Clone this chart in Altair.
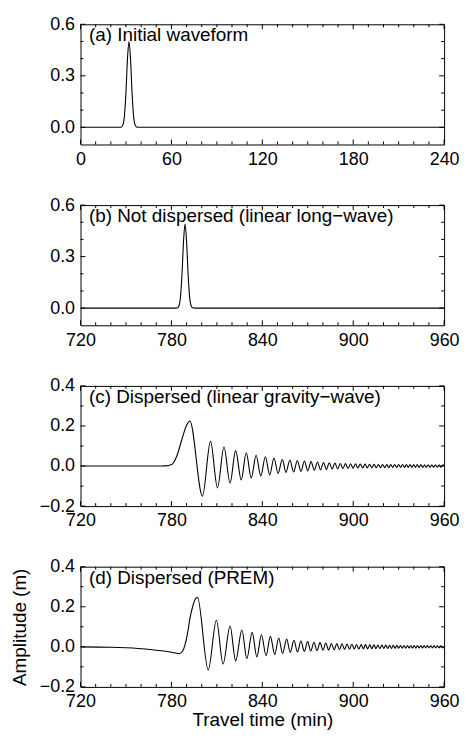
import altair as alt
import pandas as pd

FONT = "Liberation Sans"
W, H = 366, 121

panel_labels = [
    "(a) Initial waveform",
    "(b) Not dispersed (linear long\u2212wave)",
    "(c) Dispersed (linear gravity\u2212wave)",
    "(d) Dispersed (PREM)",
]
x_title = "Travel time (min)"
y_title = "Amplitude (m)"

# ---- tick values ----
xa_major = [0, 60, 120, 180, 240]
xa_minor = [10, 20, 30, 40, 50, 70, 80, 90, 100, 110, 130, 140, 150, 160, 170,
            190, 200, 210, 220, 230]
xb_major = [720, 780, 840, 900, 960]
xb_minor = [730, 740, 750, 760, 770, 790, 800, 810, 820, 830, 850, 860, 870, 880,
            890, 910, 920, 930, 940, 950]
ya_major = [0.0, 0.3, 0.6]
ya_minor = [0.1, 0.2, 0.4, 0.5]
yc_major = [-0.2, 0.0, 0.2, 0.4]
yc_minor = [-0.1, 0.1, 0.3]

# ---- (a) initial waveform ----
a_time = [0, 26, 27, 28, 29, 30, 31, 32, 33, 34, 35, 36, 37, 38, 240]
a_amp = [0, 0.0, 0.002, 0.014, 0.068, 0.205, 0.40, 0.50, 0.40, 0.205, 0.068,
         0.014, 0.002, 0.0, 0]

# ---- (b) not dispersed ----
b_time = [720, 783, 784, 785, 786, 787, 788, 789, 790, 791, 792, 793, 794, 795, 960]
b_amp = [0, 0.0, 0.002, 0.014, 0.067, 0.20, 0.39, 0.49, 0.39, 0.20, 0.067,
         0.014, 0.002, 0.0, 0]

# ---- (c) dispersed, linear gravity wave ----
c_time = [720, 770, 776, 780.2, 783.5, 786.8, 790, 792.2, 800.5, 805.8, 810.4,
          814.7, 818.7, 822.4, 826.1, 829.4, 832.7, 835.9, 839.0, 842.0, 844.9,
          847.7, 850.4, 853.2, 855.6, 858.2, 860.7, 863.1, 865.5, 867.8, 870.0,
          872.2, 874.3, 876.4, 878.4, 880.4, 882.3, 884.2, 886.1, 887.9, 889.7,
          891.5, 893.2, 894.9, 896.6, 898.3, 899.9, 901.5, 903.1, 904.7, 906.3,
          907.8, 909.3, 910.8, 912.3, 913.8, 915.2, 916.6, 918.0, 919.4, 920.8,
          922.2, 923.5, 924.8, 926.1, 927.4, 928.7, 930.0, 931.3, 932.6, 933.9,
          935.1, 936.3, 937.5, 938.7, 939.9, 941.1, 942.3, 943.5, 944.7, 945.9,
          947.1, 948.3, 949.5, 950.7, 951.9, 953.1, 954.3, 955.5, 956.7, 957.9,
          959.1, 960]
c_amp = [0, 0, 0.001, 0.008, 0.049, 0.13, 0.204, 0.225, -0.15, 0.123, -0.109,
         0.095, -0.085, 0.077, -0.07, 0.066, -0.06, 0.054, -0.05, 0.046, -0.044,
         0.04, -0.037, 0.033, -0.032, 0.03, -0.03, 0.028, -0.027, 0.025, -0.024,
         0.022, -0.021, 0.02, -0.019, 0.018, -0.017, 0.016, -0.015, 0.015, -0.014,
         0.013, -0.013, 0.012, -0.012, 0.011, -0.011, 0.011, -0.010, 0.010, -0.010,
         0.010, -0.009, 0.009, -0.009, 0.009, -0.009, 0.008, -0.008, 0.008, -0.008,
         0.008, -0.008, 0.008, -0.007, 0.007, -0.007, 0.007, -0.007, 0.007, -0.007,
         0.007, -0.007, 0.007, -0.007, 0.007, -0.007, 0.007, -0.007, 0.007, -0.007,
         0.006, -0.006, 0.006, -0.006, 0.006, -0.006, 0.006, -0.006, 0.006, -0.006,
         0.006, 0.0]

# ---- (d) dispersed, PREM ----
d_time = [720, 740, 758, 775, 781, 785.3, 787.5, 789, 790.7, 792.2, 794, 795.5,
          797.2, 804.3, 809.7, 814.1, 818.7, 822.4, 826.5, 829.8, 833.3, 836.4,
          839.4, 842.5, 845.3, 848.2, 850.8, 853.4, 856.1, 858.4, 860.9, 863.2,
          865.5, 867.7, 869.9, 872.0, 874.1, 876.1, 878.1, 880.0, 881.9, 883.8,
          885.6, 887.4, 889.2, 890.9, 892.6, 894.3, 895.9, 897.5, 899.1, 900.7,
          902.2, 903.7, 905.2, 906.7, 908.1, 909.5, 910.9, 912.3, 913.7, 915.0,
          916.3, 917.6, 918.9, 920.2, 921.5, 922.8, 924.0, 925.2, 926.4, 927.6,
          928.8, 930.0, 931.2, 932.4, 933.6, 934.7, 935.8, 936.9, 938.0, 939.1,
          940.2, 941.3, 942.4, 943.5, 944.6, 945.7, 946.8, 947.9, 949.0, 950.1,
          951.2, 952.3, 953.4, 954.5, 955.6, 956.7, 957.8, 958.9, 960]
d_amp = [0, -0.002, -0.008, -0.021, -0.028, -0.034, -0.02, 0.011, 0.07, 0.141,
         0.20, 0.235, 0.247, -0.115, 0.133, -0.086, 0.104, -0.07, 0.084, -0.059,
         0.072, -0.05, 0.06, -0.044, 0.052, -0.038, 0.044, -0.033, 0.039, -0.028,
         0.033, -0.026, 0.029, -0.023, 0.026, -0.021, 0.023, -0.019, 0.021, -0.017,
         0.019, -0.016, 0.017, -0.015, 0.016, -0.014, 0.015, -0.013, 0.014, -0.012,
         0.013, -0.011, 0.012, -0.011, 0.011, -0.010, 0.011, -0.010, 0.010, -0.009,
         0.010, -0.009, 0.009, -0.009, 0.009, -0.008, 0.009, -0.008, 0.008, -0.008,
         0.008, -0.007, 0.008, -0.007, 0.007, -0.007, 0.007, -0.007, 0.007, -0.006,
         0.007, -0.006, 0.006, -0.006, 0.006, -0.006, 0.006, -0.006, 0.006, -0.005,
         0.006, -0.005, 0.005, -0.005, 0.005, -0.005, 0.005, -0.005, 0.005, -0.005,
         0.0]


def tick_layers(vals, xs, ys, xaxis, yaxis, length, horizontal):
    df = pd.DataFrame({"p": vals})
    base = alt.Chart(df).mark_rule(color="black", strokeWidth=1)
    out = []
    if horizontal:  # ticks on bottom and top along x
        enc = alt.X("p:Q", scale=xs, axis=xaxis)
        out.append(base.encode(x=enc, y=alt.value(H), y2=alt.value(H - length)))
        out.append(base.encode(x=enc, y=alt.value(0), y2=alt.value(length)))
    else:
        enc = alt.Y("p:Q", scale=ys, axis=yaxis)
        out.append(base.encode(y=enc, x=alt.value(0), x2=alt.value(length)))
        out.append(base.encode(y=enc, x=alt.value(W), x2=alt.value(W - length)))
    return out


def panel(times, amps, xdom, ydom, xmaj, xmin, ymaj, ymin, label, last):
    xs = alt.Scale(domain=xdom, nice=False, zero=False)
    ys = alt.Scale(domain=ydom, nice=False, zero=False)
    df = pd.DataFrame({"t": times, "v": amps})
    xaxis = alt.Axis(values=xmaj, format="d", title=x_title if last else None,
                     titlePadding=0)
    yaxis = alt.Axis(values=ymaj, format=".1f", title=y_title if last else None,
                     titlePadding=10)
    line = alt.Chart(df).mark_line(color="black", strokeWidth=1.1,
                                   interpolate="monotone", clip=True).encode(
        x=alt.X("t:Q", scale=xs, axis=xaxis),
        y=alt.Y("v:Q", scale=ys, axis=yaxis),
    )
    txt = alt.Chart(pd.DataFrame({"label": [label]})).mark_text(
        align="left", baseline="alphabetic", fontSize=19, font=FONT, color="black"
    ).encode(x=alt.value(8.5), y=alt.value(17), text="label:N")
    layers = [line]
    layers += tick_layers(xmin, xs, ys, xaxis, yaxis, 3, True)
    layers += tick_layers(xmaj, xs, ys, xaxis, yaxis, 5, True)
    layers += tick_layers(ymin, xs, ys, xaxis, yaxis, 3, False)
    layers += tick_layers(ymaj, xs, ys, xaxis, yaxis, 5, False)
    layers.append(txt)
    return alt.layer(*layers).properties(width=W, height=H)


pa = panel(a_time, a_amp, [0, 240], [-0.1, 0.6], xa_major, xa_minor,
           ya_major, ya_minor, panel_labels[0], False)
pb = panel(b_time, b_amp, [720, 960], [-0.1, 0.6], xb_major, xb_minor,
           ya_major, ya_minor, panel_labels[1], False)
pc = panel(c_time, c_amp, [720, 960], [-0.2, 0.4], xb_major, xb_minor,
           yc_major, yc_minor, panel_labels[2], False)
pd_ = panel(d_time, d_amp, [720, 960], [-0.2, 0.4], xb_major, xb_minor,
            yc_major, yc_minor, panel_labels[3], True)

chart = alt.vconcat(pa, pb, pc, pd_, spacing=61, bounds="flush").properties(
    padding={"left": 1, "top": 4, "right": 0, "bottom": 0}
).configure_view(stroke="black", strokeWidth=1).configure_axis(
    ticks=False, tickSize=0, domain=False, grid=False, labelFlush=False,
    labelOverlap=False, labelFontSize=18, labelFont=FONT, labelColor="black",
    titleFontSize=19, titleFont=FONT, titleFontWeight="normal", titleColor="black",
).configure_axisX(labelPadding=6).configure_axisY(labelPadding=6)

chart.save("out.html", embed_options={"renderer": "svg", "actions": False})
